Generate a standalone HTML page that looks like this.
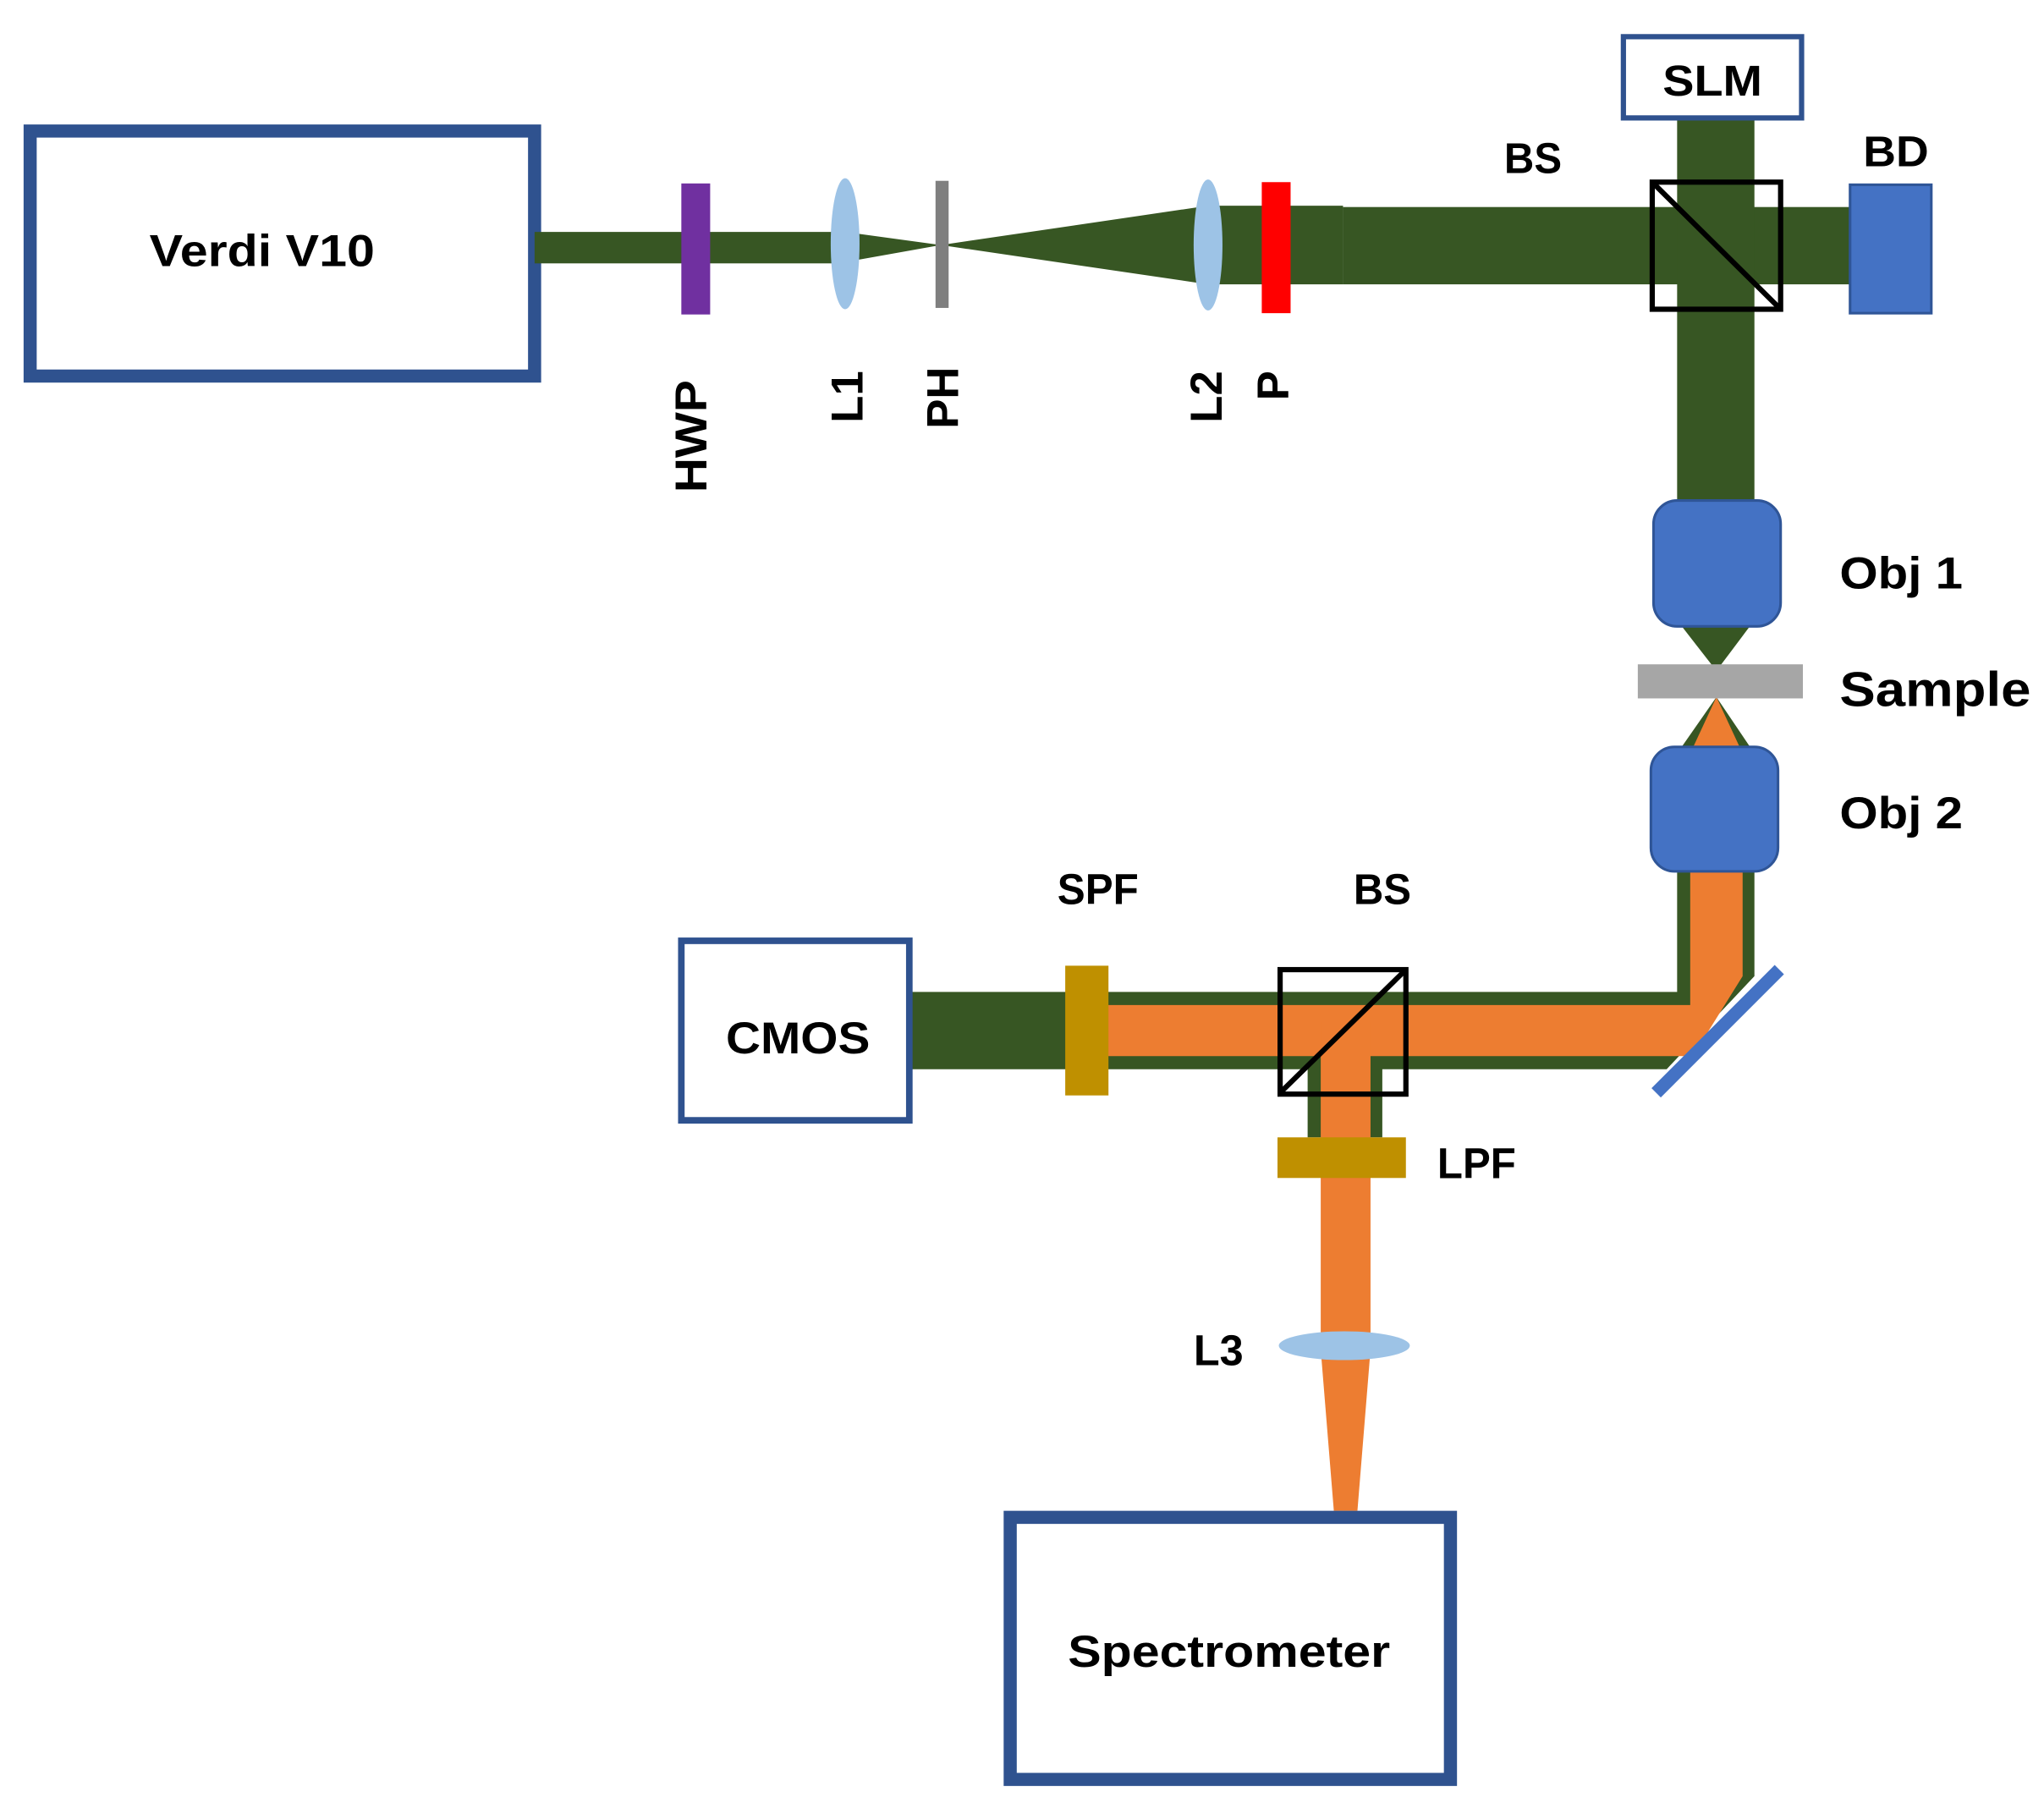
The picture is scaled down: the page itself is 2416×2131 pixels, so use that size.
<!DOCTYPE html>
<html><head><meta charset="utf-8"><style>html,body{margin:0;padding:0;background:#fff}svg{display:block}</style></head>
<body>
<svg width="2416" height="2131" viewBox="0 0 1560 1376" xmlns="http://www.w3.org/2000/svg" font-family="Liberation Sans, sans-serif" font-weight="bold" fill="#000">
<!-- Verdi -->
<rect x="23" y="100" width="385" height="187" fill="#fff" stroke="#2f528f" stroke-width="10"/>
<text x="200" y="203" font-size="34" text-anchor="middle" textLength="172" lengthAdjust="spacingAndGlyphs">Verdi V10</text>
<!-- input beam -->
<rect x="408" y="177" width="237" height="24" fill="#375623"/>
<polygon points="645,177 718,187 645,200" fill="#375623"/>
<polygon points="718,187 922,157 922,217" fill="#375623"/>
<rect x="922" y="157" width="103" height="60" fill="#375623"/>
<rect x="1025" y="158" width="387" height="59" fill="#375623"/>
<rect x="520" y="140" width="22" height="100" fill="#7030a0"/>
<ellipse cx="645" cy="186" rx="11" ry="50" fill="#9dc3e6"/>
<rect x="714" y="138" width="10" height="97" fill="#7f7f7f"/>
<ellipse cx="922" cy="187" rx="11" ry="50" fill="#9dc3e6"/>
<rect x="963" y="139" width="22" height="100" fill="#ff0000"/>
<!-- vertical beam -->
<rect x="1280" y="90" width="59" height="295" fill="#375623"/>
<rect x="1261" y="139" width="98" height="97" fill="none" stroke="#000" stroke-width="4"/>
<line x1="1263" y1="141" x2="1357" y2="234" stroke="#000" stroke-width="4"/>
<rect x="1412" y="141" width="62" height="98" fill="#4472c4" stroke="#2f5597" stroke-width="2"/>
<rect x="1239" y="28" width="136" height="62" fill="#fff" stroke="#2f528f" stroke-width="4"/>
<text x="1307" y="73" font-size="33" text-anchor="middle" textLength="76" lengthAdjust="spacingAndGlyphs">SLM</text>
<text x="1170" y="132" font-size="33" text-anchor="middle" textLength="44" lengthAdjust="spacingAndGlyphs">BS</text>
<text x="1447" y="127" font-size="33" text-anchor="middle" textLength="50" lengthAdjust="spacingAndGlyphs">BD</text>
<!-- objectives -->
<polygon points="1282,476 1337,476 1310,512" fill="#375623"/>
<rect x="1262" y="382" width="97" height="96" rx="18" fill="#4472c4" stroke="#2f5597" stroke-width="2"/>
<polygon points="1310,532 1339,575 1280,575" fill="#375623"/>
<polygon points="1310,532 1330,575 1290,575" fill="#ed7d31"/>
<rect x="1250" y="507" width="126" height="26" fill="#a6a6a6"/>
<text x="1404" y="539" font-size="37" textLength="146" lengthAdjust="spacingAndGlyphs">Sample</text>
<text x="1404" y="449" font-size="34" textLength="94" lengthAdjust="spacingAndGlyphs">Obj 1</text>
<text x="1404" y="632" font-size="34" textLength="94" lengthAdjust="spacingAndGlyphs">Obj 2</text>
<!-- return path -->
<polygon points="695,757 1280,757 1280,660 1339,660 1339,745 1272,816 695,816" fill="#375623"/>
<rect x="998" y="780" width="57" height="88" fill="#375623"/>
<polygon points="845,767 1290,767 1290,660 1330,660 1330,745 1292,806 845,806" fill="#ed7d31"/>
<rect x="1008" y="780" width="38" height="250" fill="#ed7d31"/>
<polygon points="1008,1030 1046,1030 1036,1153 1018,1153" fill="#ed7d31"/>
<rect x="1260" y="570" width="97" height="95" rx="18" fill="#4472c4" stroke="#2f5597" stroke-width="2"/>
<line x1="1264" y1="834" x2="1358" y2="740" stroke="#4472c4" stroke-width="10"/>
<rect x="520" y="718" width="174" height="137" fill="#fff" stroke="#2f528f" stroke-width="5"/>
<text x="609" y="804" font-size="34" text-anchor="middle" textLength="110" lengthAdjust="spacingAndGlyphs">CMOS</text>
<rect x="813" y="737" width="33" height="99" fill="#bf9000"/>
<rect x="977" y="740" width="96" height="95" fill="none" stroke="#000" stroke-width="4"/>
<line x1="978" y1="833" x2="1072" y2="741" stroke="#000" stroke-width="4"/>
<rect x="975" y="868" width="98" height="31" fill="#bf9000"/>
<ellipse cx="1026" cy="1027" rx="50" ry="11" fill="#9dc3e6"/>
<text x="838" y="690" font-size="33" text-anchor="middle" textLength="62" lengthAdjust="spacingAndGlyphs">SPF</text>
<text x="1055" y="690" font-size="33" text-anchor="middle" textLength="44" lengthAdjust="spacingAndGlyphs">BS</text>
<text x="1097" y="899" font-size="33" textLength="60" lengthAdjust="spacingAndGlyphs">LPF</text>
<text x="930" y="1042" font-size="33" text-anchor="middle" textLength="38" lengthAdjust="spacingAndGlyphs">L3</text>
<rect x="771" y="1158" width="336" height="200" fill="#fff" stroke="#2f528f" stroke-width="10"/>
<text x="938" y="1272" font-size="34" text-anchor="middle" textLength="246" lengthAdjust="spacingAndGlyphs">Spectrometer</text>
<!-- rotated labels -->
<g font-size="34" text-anchor="end" dominant-baseline="central">
<text transform="translate(528,290) rotate(-90)" textLength="86" lengthAdjust="spacingAndGlyphs">HWP</text>
<text transform="translate(647,283) rotate(-90)">L1</text>
<text transform="translate(720,280) rotate(-90)">PH</text>
<text transform="translate(921,283) rotate(-90)">L2</text>
<text transform="translate(972,283) rotate(-90)">P</text>
</g>
</svg>
</body></html>
